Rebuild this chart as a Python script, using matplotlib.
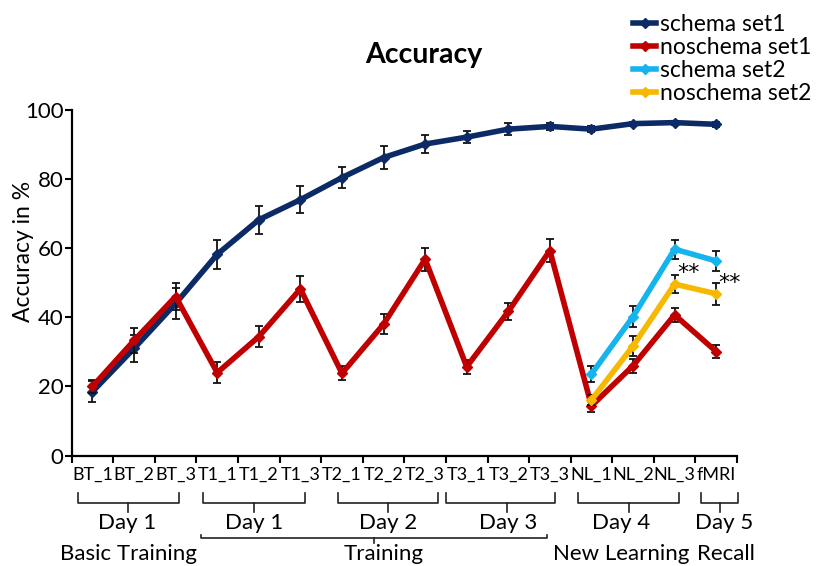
import matplotlib
matplotlib.use('Agg')
import matplotlib.pyplot as plt
import matplotlib.transforms as mtransforms
import numpy as np

plt.rcParams['font.family'] = ['Lato', 'DejaVu Sans']

# --- data ---
categories = ['BT_1', 'BT_2', 'BT_3', 'T1_1', 'T1_2', 'T1_3', 'T2_1', 'T2_2',
              'T2_3', 'T3_1', 'T3_2', 'T3_3', 'NL_1', 'NL_2', 'NL_3', 'fMRI']

schema_set1 = [18.5, 31.0, 44.0, 58.2, 68.2, 74.0, 80.4, 86.2,
               90.1, 92.1, 94.4, 95.2, 94.4, 96.0, 96.3, 95.8]
schema_set1_err = [3.0, 4.0, 4.5, 4.1, 4.1, 3.9, 3.1, 3.2,
                   2.6, 1.7, 1.8, 1.0, 0.8, 0.6, 0.6, 0.7]

noschema_set1 = [20.0, 33.3, 46.0, 24.0, 34.4, 48.2, 23.8, 38.0,
                 56.8, 25.7, 41.7, 59.3, 14.4, 26.0, 40.7, 30.1]
noschema_set1_err = [2.0, 3.5, 4.0, 3.0, 3.0, 3.7, 2.0, 2.9,
                     3.3, 2.0, 2.5, 3.4, 1.7, 2.0, 2.0, 2.0]

set2_categories = ['NL_1', 'NL_2', 'NL_3', 'fMRI']
schema_set2 = [23.6, 40.2, 59.7, 56.3]
schema_set2_err = [2.4, 3.0, 2.7, 3.0]
noschema_set2 = [16.1, 31.7, 49.6, 46.8]
noschema_set2_err = [1.5, 2.9, 2.7, 3.1]

# significance marks next to the set2 pairs
sig_labels = ['**', '**']
sig_pos = [(14.33, 52.8), (15.31, 49.9)]

# day brackets below the tick labels
day_labels = ['Day 1', 'Day 1', 'Day 2', 'Day 3', 'Day 4', 'Day 5']
# (left end, right end, centre tick, text centre) in category units
day_brackets = [(-0.36, 2.08, 0.86, 0.84),
                (2.65, 5.12, 3.88, 3.88),
                (5.91, 8.30, 7.10, 7.10),
                (8.50, 11.12, 9.98, 10.0),
                (11.67, 14.10, 12.90, 12.71),
                (14.64, 15.52, 15.10, 15.19)]

phase_labels = ['Basic Training', 'Training', 'New Learning', 'Recall']
phase_x = [0.86, 7.0, 12.71, 15.24]
training_bracket = (2.62, 10.92, 6.76)

colors = {'schema set1': '#0b2a66', 'noschema set1': '#c00000',
          'schema set2': '#16b4ee', 'noschema set2': '#f7b800'}

idx = {c: i for i, c in enumerate(categories)}
x = np.arange(len(categories))
x2 = np.array([idx[c] for c in set2_categories])

fig = plt.figure(figsize=(8.22, 5.66), dpi=100)
ax = fig.add_axes([0.0872, 0.195, 0.8094, 0.611])

series = [('schema set1', x, schema_set1, schema_set1_err),
          ('noschema set1', x, noschema_set1, noschema_set1_err),
          ('schema set2', x2, schema_set2, schema_set2_err),
          ('noschema set2', x2, noschema_set2, noschema_set2_err)]

handles = []
for k, (name, xs, ys, es) in enumerate(series):
    ax.errorbar(xs, ys, yerr=es, fmt='none', ecolor='#111111',
                elinewidth=1.3, capsize=3, capthick=1.3, zorder=2 + 2 * k)
    ln, = ax.plot(xs, ys, color=colors[name], lw=4, marker='D', ms=5.5,
                  label=name, zorder=3 + 2 * k, clip_on=False)
    handles.append(ln)

for lab, (sx, sy) in zip(sig_labels, sig_pos):
    ax.text(sx, sy, lab, fontsize=16, ha='center', va='center',
            family='DejaVu Sans')

ax.set_xlim(-0.5, len(categories) - 0.5)
ax.set_ylim(0, 100)
ax.set_yticks([0, 20, 40, 60, 80, 100])
ax.tick_params(axis='y', labelsize=16, width=1.5, length=5, pad=1)

ax.set_xticks(np.arange(len(categories) + 1) - 0.5)
ax.set_xticklabels([])
ax.set_xticks(x, minor=True)
ax.set_xticklabels(categories, minor=True, fontsize=13)
ax.tick_params(axis='x', which='major', width=1.5, length=5)
ax.tick_params(axis='x', which='minor', length=0, pad=8)

for s in ['top', 'right']:
    ax.spines[s].set_visible(False)
for s in ['left', 'bottom']:
    ax.spines[s].set_linewidth(1.6)

ax.set_ylabel('Accuracy in %', fontsize=16.5)
ax.yaxis.set_label_coords(-0.057, 0.59)

fig.text(0.516, 0.903, 'Accuracy', fontsize=20.5, fontweight='bold',
         ha='center', va='center')

fig.legend(handles=handles, loc='upper left', bbox_to_anchor=(0.765, 0.983),
           frameon=False, fontsize=16.5, handlelength=1.0, handletextpad=0.15,
           labelspacing=0.08, borderpad=0.2, borderaxespad=0)

# brackets under the axis (x in data units, y in figure fraction)
trans = mtransforms.blended_transform_factory(ax.transData, fig.transFigure)
bk = dict(color='#222222', lw=1.2, clip_on=False, transform=trans)
for label, (x0, x1, xt, xl) in zip(day_labels, day_brackets):
    ax.plot([x0, x0, x1, x1], [0.1284, 0.1118, 0.1118, 0.1284], **bk)
    ax.plot([xt, xt], [0.1118, 0.0959], **bk)
    ax.text(xl, 0.076, label, fontsize=16, ha='center', va='center',
            transform=trans)

t0, t1, tc = training_bracket
ax.plot([t0, t0, t1, t1], [0.0548, 0.0489, 0.0489, 0.0548], **bk)
ax.plot([tc, tc], [0.0489, 0.0412], **bk)

for label, xl in zip(phase_labels, phase_x):
    ax.text(xl, 0.021, label, fontsize=16, ha='center', va='center',
            transform=trans)

fig.savefig('out.png', dpi=100)
